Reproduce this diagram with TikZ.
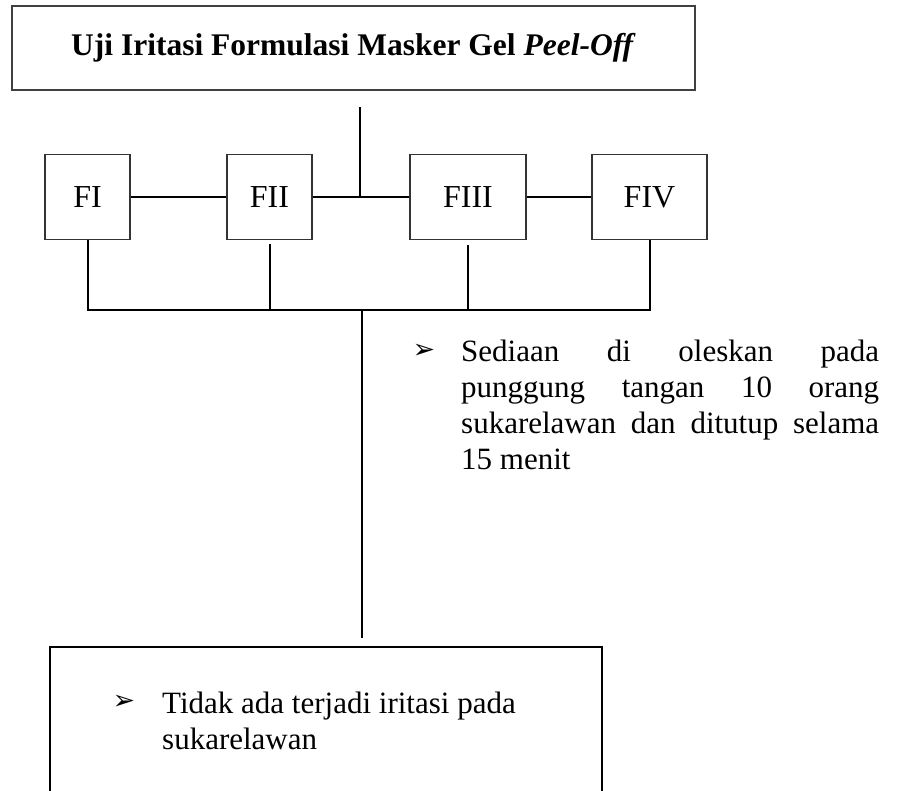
\documentclass[tikz,border=0pt]{standalone}
\usepackage{fontspec}
\setmainfont{Liberation Serif}
\newfontfamily\symfont{DejaVu Sans}
\begin{document}
\begin{tikzpicture}[x=1pt,y=-1pt,
  box/.style={draw=black!80,line width=1.3pt,rectangle,inner sep=0pt,
    minimum height=85pt,font=\fontsize{32}{36}\selectfont},
  link/.style={draw=black,line width=2pt},
  bodytext/.style={font=\fontsize{31}{36}\selectfont,inner sep=0pt},
  bullet/.style={font=\symfont\fontsize{27}{30}\selectfont,inner sep=0pt}]
\clip (0,0) rectangle (913,791);
\fill[white] (0,0) rectangle (913,791);

% title box
\node[draw=black!75,line width=1.3pt,minimum width=683pt,minimum height=84pt,
  inner sep=0pt,font=\fontsize{31.5}{36}\selectfont\bfseries] (title) at (353.5,48)
  {Uji Iritasi Formulasi Masker Gel \textit{Peel-Off}};

% formula boxes
\node[box,minimum width=85pt]  (f1) at (87.5,197) {FI};
\node[box,minimum width=85pt]  (f2) at (269.5,197) {FII};
\node[box,minimum width=116pt] (f3) at (468,197) {FIII};
\node[box,minimum width=115pt] (f4) at (649.5,197) {FIV};

% upper branch
\coordinate (tstart) at (360,107);
\coordinate (tjoin) at (360,197);
\draw[link] (f1) -- (f2);
\draw[link] (f2) -- (f3);
\draw[link] (f3) -- (f4);
\draw[link] (tstart) -- (tjoin);

% lower bus
\coordinate (bus) at (0,310);
\coordinate (drop) at (362,310);
\draw[link] (f1.south) -- (f1.south |- bus) -- (f4.south |- bus) -- (f4.south);
\draw[link] ([yshift=-4pt]f2.south) -- (f2.south |- bus);
\draw[link] ([yshift=-5pt]f3.south) -- (f3.south |- bus);

% procedure note
\node[bullet] (b1) at (424,351) {➢};
\node[bodytext,anchor=base west,text width=418pt,align=justify] (note) at (461,362)
  {Sediaan di oleskan pada\linebreak punggung tangan 10 orang\linebreak
   sukarelawan dan ditutup selama\linebreak 15 menit};

% result box (runs off the bottom edge)
\coordinate (rtl) at (50,647);
\coordinate (rbr) at (602,820);
\draw[draw=black,line width=2pt] (rtl) rectangle (rbr);
\coordinate (rtop) at (362,647);
\draw[link] (drop) -- ([yshift=9pt]rtop);
\node[bullet] (b2) at (124,702) {➢};
\node[bodytext,anchor=base west,text width=420pt,align=flush left] (result) at (162,713)
  {Tidak ada terjadi iritasi pada\\sukarelawan};
\end{tikzpicture}
\end{document}
